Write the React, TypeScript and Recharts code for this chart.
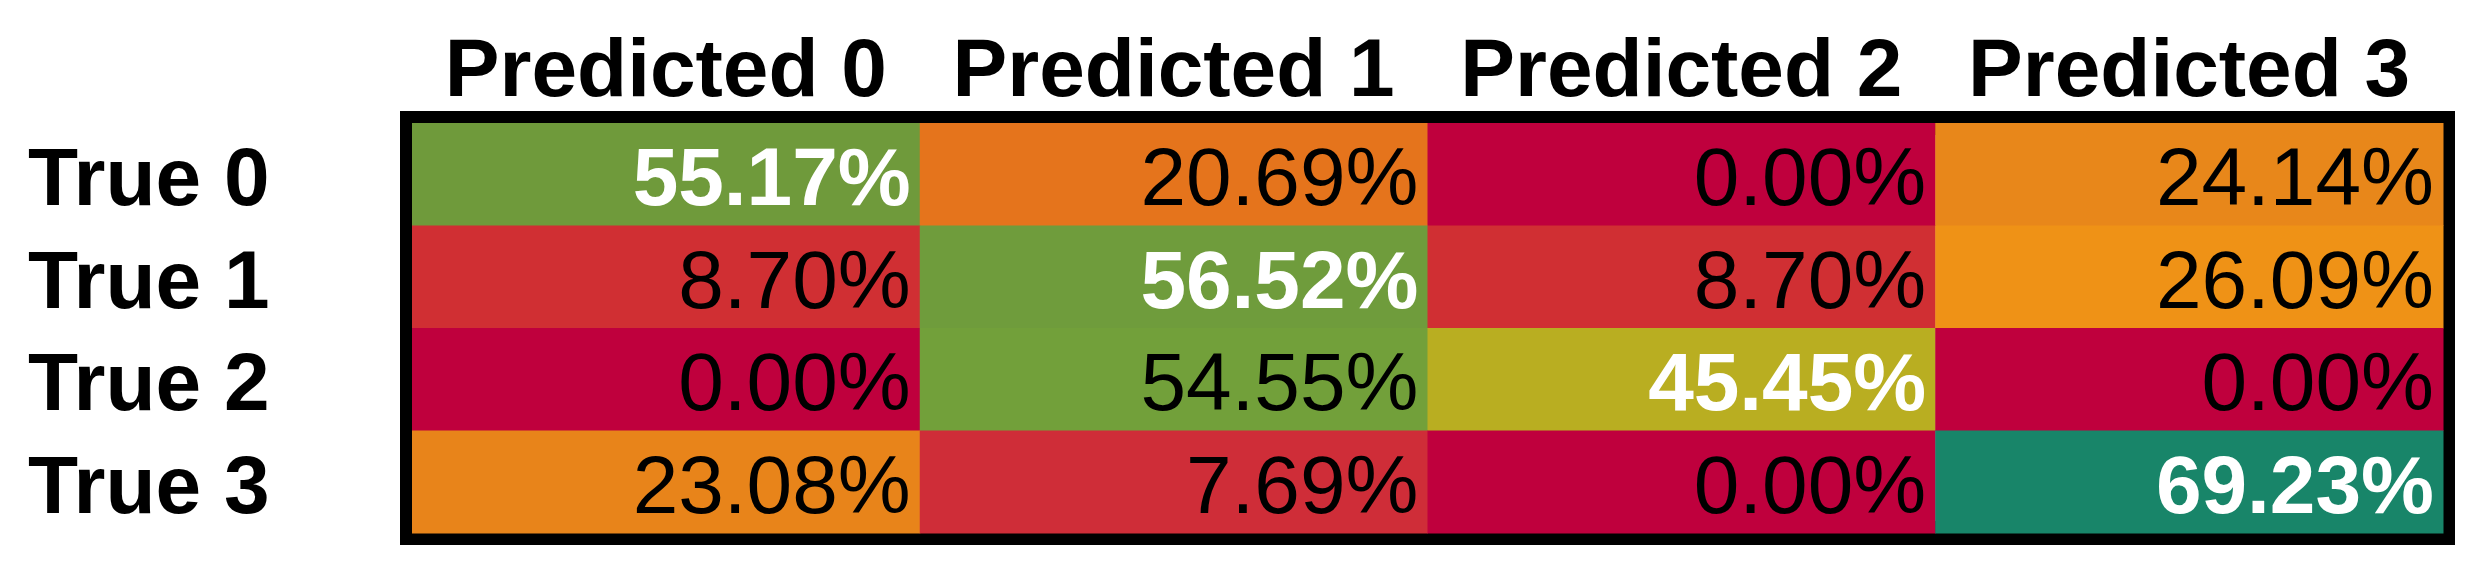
import React from 'react';
import { ScatterChart, Scatter, XAxis, YAxis, ReferenceArea } from 'recharts';

// Column (predicted) and row (true) labels
const predictedLabels = ['Predicted 0', 'Predicted 1', 'Predicted 2', 'Predicted 3'];
const trueLabels = ['True 0', 'True 1', 'True 2', 'True 3'];

// Row-normalized confusion matrix values (%)
const true0 = [55.17, 20.69, 0.0, 24.14];
const true1 = [8.7, 56.52, 8.7, 26.09];
const true2 = [0.0, 54.55, 45.45, 0.0];
const true3 = [23.08, 7.69, 0.0, 69.23];

// Cell fill colours
const colors0 = ['#6f9a3b', '#e5741c', '#bf003d', '#e8871a'];
const colors1 = ['#d02f33', '#6f9c3c', '#d02f33', '#ef9216'];
const colors2 = ['#bf003d', '#72a03a', '#b9ae21', '#bf003d'];
const colors3 = ['#e8841a', '#cf2d38', '#bf003d', '#188569'];

const rows = [true0, true1, true2, true3];
const rowColors = [colors0, colors1, colors2, colors3];

const data = rows.flatMap((vals, r) =>
  vals.map((v, c) => ({ col: c, row: r, value: v, color: rowColors[r][c], diag: r === c }))
);

const W = 2481;
const H = 570;
const MARGIN = { top: 0, right: 38, bottom: 37, left: 12 };
const X_AXIS_H = 123;
const Y_AXIS_W = 400;
const PLOT_W = W - MARGIN.left - MARGIN.right - Y_AXIS_W;
const PLOT_H = H - MARGIN.top - MARGIN.bottom - X_AXIS_H;
const CELL_W = PLOT_W / 4;
const CELL_H = PLOT_H / 4;
const FONT = '"Liberation Sans", Arial, sans-serif';
const FS = 82;

const Cell = (props: any) => {
  const { cx, cy, payload } = props;
  if (cx == null || cy == null) return null;
  return (
    <g>
      <rect x={cx - CELL_W / 2} y={cy - CELL_H / 2} width={CELL_W + 0.5} height={CELL_H + 0.5} fill={payload.color} />
      <text
        x={cx + CELL_W / 2 - 9}
        y={cy + 31}
        textAnchor="end"
        fontFamily={FONT}
        fontSize={FS}
        fontWeight={payload.diag ? 700 : 400}
        fill={payload.diag ? '#ffffff' : '#000000'}
      >
        {payload.value.toFixed(2) + '%'}
      </text>
    </g>
  );
};

const HeaderTick = (props: any) => {
  const { x, y, payload } = props;
  return (
    <text x={x} y={y - 27} textAnchor="middle" fontFamily={FONT} fontSize={FS} fontWeight={700} fill="#000">
      {predictedLabels[payload.value]}
    </text>
  );
};

const RowTick = (props: any) => {
  const { x, y, payload } = props;
  return (
    <text x={x - 384} y={y + 31} textAnchor="start" fontFamily={FONT} fontSize={FS} fontWeight={700} fill="#000">
      {trueLabels[payload.value]}
    </text>
  );
};

export default function App() {
  return (
    <div style={{ width: W, height: H, background: '#fff' }}>
      <style>{`body{margin:0;background:#fff}`}</style>
      <ScatterChart width={W} height={H} margin={MARGIN}>
        <XAxis
          dataKey="col"
          type="number"
          domain={[-0.5, 3.5]}
          ticks={[0, 1, 2, 3]}
          interval={0}
          orientation="top"
          height={X_AXIS_H}
          axisLine={false}
          tickLine={false}
          tickSize={0}
          tickMargin={0}
          tick={<HeaderTick />}
        />
        <YAxis
          dataKey="row"
          type="number"
          domain={[-0.5, 3.5]}
          ticks={[0, 1, 2, 3]}
          interval={0}
          reversed
          width={Y_AXIS_W}
          axisLine={false}
          tickLine={false}
          tickSize={0}
          tickMargin={0}
          tick={<RowTick />}
        />
        <ReferenceArea
          x1={-0.5}
          x2={3.5}
          y1={-0.5}
          y2={3.5}
          ifOverflow="visible"
          fill="none"
          stroke="#000"
          strokeWidth={24}
        />
        <Scatter data={data} shape={<Cell />} isAnimationActive={false} />
      </ScatterChart>
    </div>
  );
}
